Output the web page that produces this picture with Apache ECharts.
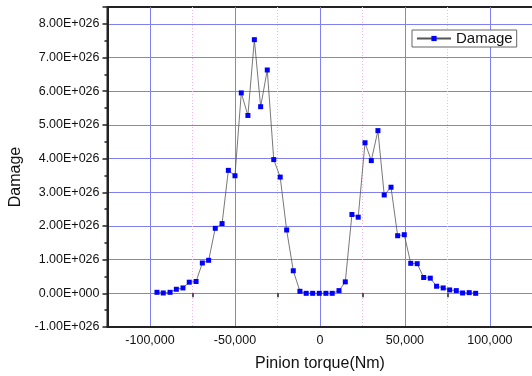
<!DOCTYPE html>
<html>
<head>
<meta charset="utf-8">
<script src="https://cdn.jsdelivr.net/npm/echarts@6/dist/echarts.min.js"></script>
<style>html,body{margin:0;padding:0;background:#fff}#c{width:532px;height:376px}</style>
</head>
<body>
<div id="c"></div>
<script>
// Pinion torque (Nm)
var torque = [-95900,-92200,-88200,-84500,-80600,-76900,-72900,-69200,-65500,-61600,
  -57600,-53900,-50000,-46300,-42400,-38600,-34900,-31000,-27200,-23400,
  -19600,-15700,-11800,-8100,-4300,-400,3500,7200,11200,14900,
  18800,22500,26500,30200,34100,37800,41800,45700,49600,53400,
  57200,61000,64900,68600,72500,76300,80200,83900,87800,91600];
// Damage, in units of 1E+026
var damage = [0.03,0.01,0.03,0.12,0.16,0.33,0.35,0.90,0.98,1.93,
  2.07,3.65,3.49,5.95,5.28,7.53,5.54,6.63,3.97,3.45,
  1.88,0.67,0.06,0.00,0.00,0.00,0.00,0.00,0.08,0.34,
  2.34,2.26,4.47,3.94,4.83,2.92,3.15,1.71,1.74,0.89,
  0.88,0.47,0.45,0.21,0.16,0.10,0.08,0.01,0.02,0.00];
var seriesName = 'Damage';
var xTitle = 'Pinion torque(Nm)';
var yTitle = 'Damage';

var pts = torque.map(function(t, i){ return [t, damage[i]]; });
var font = '"Liberation Sans", Arial, sans-serif';
var xMin = -125000, xMax = 126800;
var chart = echarts.init(document.getElementById('c'), null, {renderer:'canvas'});
chart.setOption({
  animation: false,
  backgroundColor: '#fff',
  grid: {left: 107.5, top: 7, width: 428, height: 320, show: true,
         containLabel: false, outerBoundsMode: 'none',
         borderColor: '#222', borderWidth: 2, backgroundColor: 'transparent'},
  legend: {
    show: true, selectedMode: false, left: 412, top: 30,
    backgroundColor: '#fff', borderColor: '#666', borderWidth: 1,
    padding: [1, 4, 1, 4], itemWidth: 34, itemHeight: 6.5, itemGap: 5,
    textStyle: {fontFamily: font, fontSize: 15, color: '#111'},
    data: [seriesName]
  },
  xAxis: [{
    type: 'value', min: xMin, max: xMax, interval: 25000,
    position: 'bottom',
    name: xTitle, nameLocation: 'middle', nameGap: 29,
    nameTextStyle: {fontFamily: font, fontSize: 16, color: '#111', padding: [0, 3, 0, 0]},
    axisLine: {show: true, onZero: false, lineStyle: {color: '#222', width: 2}},
    axisTick: {show: false},
    axisLabel: {fontFamily: font, fontSize: 12.5, color: '#111', margin: 7,
      formatter: function(v){ return (v % 50000 === 0) ? v.toLocaleString('en-US') : ''; }},
    splitLine: {show: true, showMinLine: false, showMaxLine: false,
      lineStyle: {color: ['#8080f0', 'rgba(0,0,0,0)'], width: 1}}
  }, {
    type: 'value', min: xMin, max: xMax, interval: 50000,
    position: 'bottom', offset: 0,
    axisLine: {show: false},
    axisTick: {show: true, inside: false, length: 4, lineStyle: {color: '#222', width: 1.5}},
    axisLabel: {show: false},
    splitLine: {show: true, showMinLine: false, showMaxLine: false,
      lineStyle: {color: '#f2b4e4', width: 1, type: [1, 2]}}
  }],
  yAxis: {
    type: 'value', min: -1, max: 8.5, interval: 1,
    name: yTitle, nameLocation: 'middle', nameGap: 83, nameRotate: 90,
    nameTextStyle: {fontFamily: font, fontSize: 16, color: '#111', padding: [0, 20, 0, 0]},
    axisLine: {show: true, onZero: false, lineStyle: {color: '#222', width: 2}},
    axisTick: {show: true, length: 5, lineStyle: {color: '#222', width: 1.5}},
    minorTick: {show: true, splitNumber: 2, length: 3, lineStyle: {color: '#222', width: 1.5}},
    axisLabel: {fontFamily: font, fontSize: 12.5, color: '#111', margin: 8,
      formatter: function(v){
        if (v > 8.01) return '';
        if (Math.abs(v) < 1e-9) return '0.00E+000';
        return v.toFixed(2) + 'E+026';
      }},
    splitLine: {show: true, showMinLine: false, showMaxLine: false,
      lineStyle: {color: '#8080f0', width: 1}}
  },
  series: [{
    name: seriesName, type: 'line', xAxisIndex: 0, data: pts,
    symbol: 'rect', symbolSize: 5, showSymbol: true,
    lineStyle: {color: '#555', width: 0.8},
    itemStyle: {color: '#0000ff'},
    z: 5
  }]
});
</script>
</body>
</html>
